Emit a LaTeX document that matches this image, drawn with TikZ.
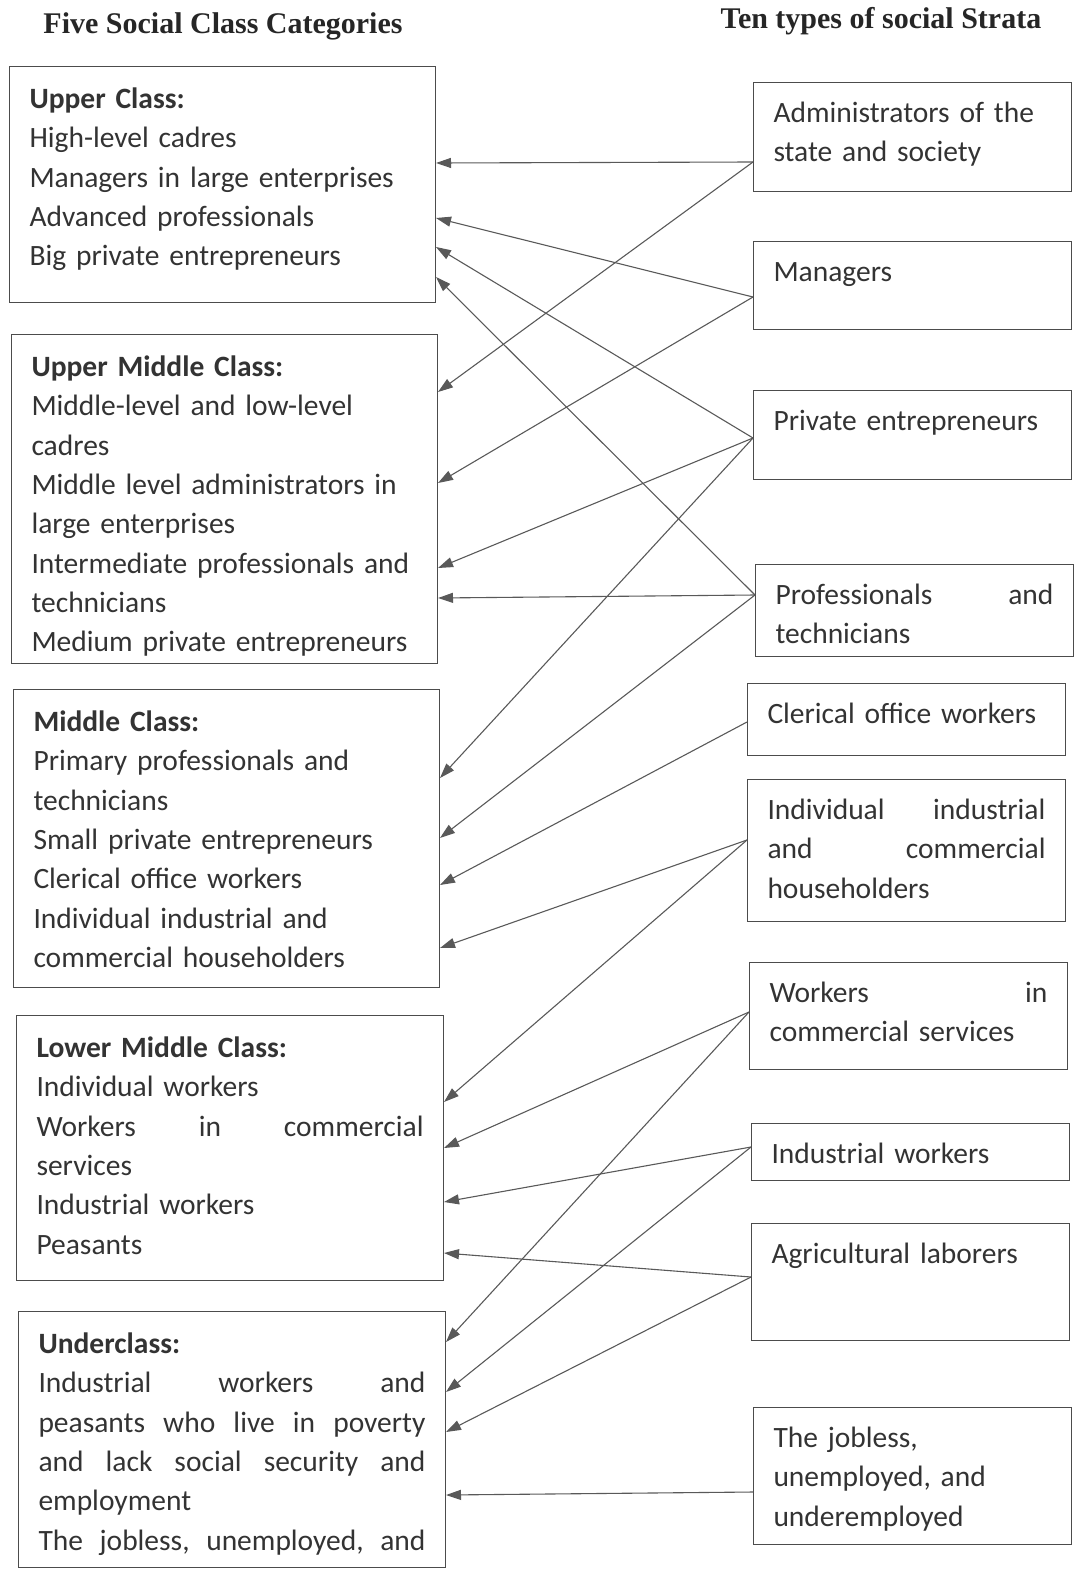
\documentclass[tikz,border=0pt]{standalone}
\usepackage{fontspec}
\setmainfont{Carlito}
\newfontfamily\headfont{Liberation Serif}
\usetikzlibrary{arrows.meta}

\tikzset{%
  every class/.style={
    draw=black!70,
    line width=1pt,
    anchor=north west,
    inner xsep=20pt,
    inner ysep=0pt,
    align=left,
    text=black!80,
    font=\fontsize{29.5}{39.3}\selectfont,
    text height=42pt
  },
  every stratum/.style={
    every class,
    text width=278pt,
    text height=40pt
  },
  heading/.style={
    text=black!85,
    font=\headfont\bfseries\fontsize{30}{36}\selectfont
  },
  link/.style={
    draw=black!65,
    line width=1.1pt
  },
}

\begin{document}
\begin{tikzpicture}[x=1pt, y=-1pt, >={Triangle[length=15pt,width=10pt]}]
\useasboundingbox (0,0) rectangle (1077,1576);

\node [heading] (head-class) at (223,26) {Five Social Class Categories};
\node [heading] (head-strata) at (881,21) {Ten types of social Strata};

% five classes
\node [every class, text width=386pt, text depth=194pt] (upper) at (9,66)
  {\textbf{Upper Class:}\\High-level cadres\\Managers in large enterprises\\
   Advanced professionals\\Big private entrepreneurs};
\node [every class, text width=386pt, text depth=287pt] (uppermid) at (11,334)
  {\textbf{Upper Middle Class:}\\Middle-level and low-level\\cadres\\
   Middle level administrators in\\large enterprises\\
   Intermediate professionals and\\technicians\\Medium private entrepreneurs};
\node [every class, text width=386pt, text depth=256pt] (middle) at (13,689)
  {\textbf{Middle Class:}\\Primary professionals and\\technicians\\
   Small private entrepreneurs\\Clerical office workers\\
   Individual industrial and\\commercial householders};
\node [every class, text width=387pt, text depth=223pt] (lower) at (16,1015)
  {\textbf{Lower Middle Class:}\\Individual workers\\Workers\hfill in\hfill commercial\\
   services\\Industrial workers\\Peasants};
\node [every class, text width=387pt, text depth=214pt] (under) at (18,1311)
  {\textbf{Underclass:}\\Industrial\hfill workers\hfill and\\
   peasants\hfill who\hfill live\hfill in\hfill poverty\\
   and\hfill lack\hfill social\hfill security\hfill and\\employment\\
   The\hfill jobless,\hfill unemployed,\hfill and};

% ten strata
\foreach \n/\x/\y/\d/\t in {
    admin/753/82/69/{Administrators of the\\state and society},
    managers/753/241/48/{Managers},
    private/753/390/49/{Private entrepreneurs},
    prof/755/564/52/{Professionals\hfill and\\technicians},
    clerical/747/683/32/{Clerical office workers},
    indiv/747/779/102/{Individual\hfill industrial\\and\hfill commercial\\householders},
    workers/749/962/67/{Workers\hfill in\\commercial services},
    industrial/751/1123/17/{Industrial workers},
    agri/751/1223/77/{Agricultural laborers},
    jobless/753/1407/97/{The jobless,\\unemployed, and\\underemployed}}
  \node [every stratum, text depth=\d pt] (\n) at (\x,\y) {\t};

% links from strata to classes
\foreach \s/\a/\c/\b in {
    admin/80/upper/97, admin/80/uppermid/58,
    managers/56/upper/152, managers/56/uppermid/149,
    private/48/upper/181, private/48/uppermid/234, private/48/middle/89,
    prof/31/upper/211, prof/31/uppermid/264, prof/31/middle/149,
    clerical/39/middle/196,
    indiv/61/middle/259, indiv/61/lower/87,
    workers/50/lower/133, workers/50/under/31,
    industrial/24/lower/187, industrial/24/under/81,
    agri/54/lower/238, agri/54/under/121,
    jobless/85/under/184}
  \draw [link, ->] ([yshift=-\a pt]\s.north west) -- ([yshift=-\b pt]\c.north east);

\end{tikzpicture}
\end{document}
